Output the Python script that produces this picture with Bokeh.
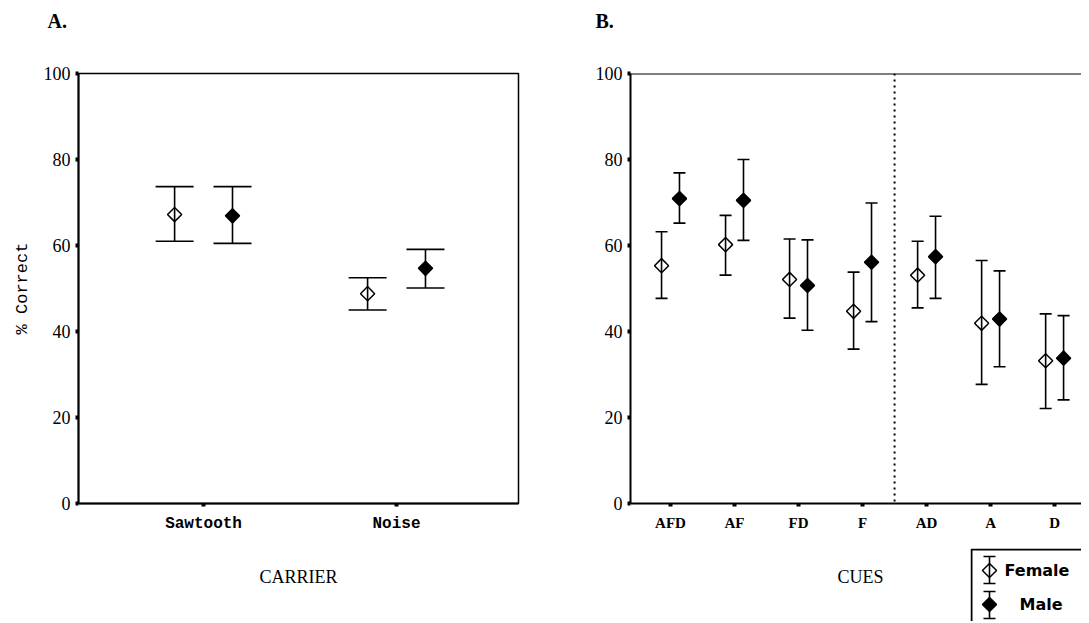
from bokeh.plotting import figure
from bokeh.layouts import row, column
from bokeh.models import (ColumnDataSource, Whisker, TeeHead, FixedTicker, Label, Span)
from bokeh.embed import file_html
from bokeh.resources import INLINE

# ---------------- data ----------------
carriers = ["Sawtooth", "Noise"]
a_female = [67.2, 48.8]
a_female_lo = [61.0, 45.0]
a_female_hi = [73.7, 52.5]
a_male = [66.9, 54.7]
a_male_lo = [60.5, 50.1]
a_male_hi = [73.7, 59.1]

cues = ["AFD", "AF", "FD", "F", "AD", "A", "D"]
b_female = [55.3, 60.2, 52.1, 44.7, 53.1, 41.9, 33.2]
b_female_lo = [47.7, 53.1, 43.1, 35.9, 45.5, 27.7, 22.1]
b_female_hi = [63.2, 67.0, 61.5, 53.8, 61.0, 56.5, 44.1]
b_male = [70.9, 70.5, 50.7, 56.1, 57.4, 42.9, 33.8]
b_male_lo = [65.2, 61.2, 40.3, 42.3, 47.7, 31.8, 24.1]
b_male_hi = [76.9, 80.0, 61.3, 69.9, 66.8, 54.1, 43.7]

y_ticks = [0, 20, 40, 60, 80, 100]
legend_labels = ["Female", "Male"]

SERIF = "Liberation Serif"
MONO = "Liberation Mono"
SANS = "DejaVu Sans"
DIAMOND = 0.785398


def style(p, xlabels, xfont, xsize, xstyle):
    p.xgrid.visible = False
    p.ygrid.visible = False
    p.yaxis.ticker = FixedTicker(ticks=y_ticks)
    p.xaxis.ticker = FixedTicker(ticks=list(range(1, len(xlabels) + 1)))
    p.xaxis.major_label_overrides = {i + 1: s for i, s in enumerate(xlabels)}
    for ax in p.axis:
        ax.axis_line_width = 2
        ax.axis_line_color = "black"
        ax.major_tick_line_color = "black"
        ax.major_tick_line_width = 4
        ax.major_tick_out = 3
        ax.major_tick_in = 0
        ax.minor_tick_line_color = None
        ax.major_label_text_color = "black"
        ax.axis_label_text_color = "black"
    p.yaxis.major_label_text_font = SERIF
    p.yaxis.major_label_text_font_size = "18px"
    p.yaxis.major_label_standoff = 5
    p.xaxis.major_label_text_font = xfont
    p.xaxis.major_label_text_font_size = xsize
    p.xaxis.major_label_text_font_style = xstyle
    p.xaxis.major_label_standoff = 8
    p.xaxis.axis_label_text_font = SERIF
    p.xaxis.axis_label_text_font_size = "18px"
    p.xaxis.axis_label_text_font_style = "normal"
    p.xaxis.axis_label_standoff = 31
    p.background_fill_color = "white"
    p.border_fill_color = "white"


def add_series(p, xs, mean, lo, hi, fill, cap):
    src = ColumnDataSource(dict(x=xs, y=mean, lo=lo, hi=hi))
    p.add_layout(Whisker(source=src, base="x", upper="hi", lower="lo",
                         line_width=1.6, line_color="black",
                         upper_head=TeeHead(size=cap, line_width=1.6, line_color="black"),
                         lower_head=TeeHead(size=cap, line_width=1.6, line_color="black")))
    p.scatter("x", "y", source=src, marker="square", angle=DIAMOND, size=10,
              fill_color=fill, fill_alpha=(0 if fill == "white" else 1),
              line_color="black", line_width=1.5)


def blank(width, height, xr, yr):
    f = figure(width=width, height=height, x_range=xr, y_range=yr,
               output_backend="svg", toolbar_location=None,
               min_border=0, min_border_left=0, min_border_right=0,
               min_border_top=0, min_border_bottom=0)
    f.axis.visible = False
    f.grid.visible = False
    f.outline_line_color = None
    f.background_fill_color = "white"
    f.border_fill_color = "white"
    return f


def panel_title(width, text, x):
    t = blank(width, TH, (0, width), (0, TH))
    t.add_layout(Label(x=x, y=TH - 20, text=text, text_font=SERIF, text_font_size="20px",
                       text_font_style="bold", text_baseline="alphabetic",
                       text_color="black"))
    return row(t)


H = 621   # total height
TH = 40   # title strip height

# ---------------- panel A ----------------
pA = figure(width=560, height=H - TH, x_range=(0.352, 2.632), y_range=(0, 100),
            output_backend="svg", toolbar_location=None,
            min_border_left=78, min_border_right=42, min_border_top=73 - TH,
            min_border_bottom=H - 503)
style(pA, carriers, MONO, "16px", "bold")
pA.outline_line_color = "black"
pA.outline_line_width = 1.5
pA.outline_line_alpha = 1
pA.xaxis.axis_label = "CARRIER"
pA.yaxis.axis_label = "% Correct"
pA.yaxis.axis_label_text_font = MONO
pA.yaxis.axis_label_text_font_size = "17px"
pA.yaxis.axis_label_text_font_style = "normal"
pA.yaxis.axis_label_standoff = 9

offA = 0.15
add_series(pA, [i + 1 - offA for i in range(len(carriers))], a_female, a_female_lo, a_female_hi, "white", 38)
add_series(pA, [i + 1 + offA for i in range(len(carriers))], a_male, a_male_lo, a_male_hi, "black", 38)

# ---------------- panel B ----------------
pB = figure(width=521, height=548 - TH, x_range=(0.375, 7.42), y_range=(0, 100),
            output_backend="svg", toolbar_location=None,
            min_border_left=70, min_border_right=0, min_border_top=73 - TH,
            min_border_bottom=45)
style(pB, cues, SERIF, "15px", "bold")
pB.outline_line_color = None
pB.add_layout(Span(location=100, dimension="width", line_color="black", line_width=2))
pB.add_layout(Span(location=(4 + 5) / 2, dimension="height", line_color="black",
                   line_width=2, line_dash="2 4"))

offB = 0.14
add_series(pB, [i + 1 - offB for i in range(len(cues))], b_female, b_female_lo, b_female_hi, "white", 12)
add_series(pB, [i + 1 + offB for i in range(len(cues))], b_male, b_male_lo, b_male_hi, "black", 12)

# x-axis title for panel B (beside the legend)
LH = H - 548
cues_fig = blank(410, LH, (0, 410), (0, LH))
cues_fig.add_layout(Label(x=300, y=LH - 28, text="CUES", text_font=SERIF,
                          text_font_size="18px", text_align="center",
                          text_baseline="middle", text_color="black"))

# legend box
leg = blank(111, LH, (0, 111), (0, LH))
leg.quad(left=[1], right=[300], top=[LH - 1], bottom=[-100], fill_alpha=0,
         line_color="black", line_width=2)
leg_src = ColumnDataSource(dict(x=[19, 19], y=[LH - 22, LH - 56],
                                lo=[LH - 35, LH - 70], hi=[LH - 8, LH - 43],
                                fill=["white", "black"], alpha=[0, 1],
                                tx=[34, 49], label=legend_labels))
leg.add_layout(Whisker(source=leg_src, base="x", upper="hi", lower="lo",
                       line_width=1.6, line_color="black",
                       upper_head=TeeHead(size=12, line_width=1.6, line_color="black"),
                       lower_head=TeeHead(size=12, line_width=1.6, line_color="black")))
leg.scatter("x", "y", source=leg_src, marker="square", angle=DIAMOND, size=10,
            fill_color="fill", fill_alpha="alpha", line_color="black", line_width=1.5)
leg.text("tx", "y", text="label", source=leg_src, text_font_size="16px",
         text_font_style="bold", text_baseline="middle", text_color="black",
         text_font={"value": SANS})

left_col = column(panel_title(560, "A.", 47), pA)
right_col = column(panel_title(521, "B.", 35), pB, row(cues_fig, leg))
layout = row(left_col, right_col)
open("out.html", "w").write(file_html(layout, INLINE))
